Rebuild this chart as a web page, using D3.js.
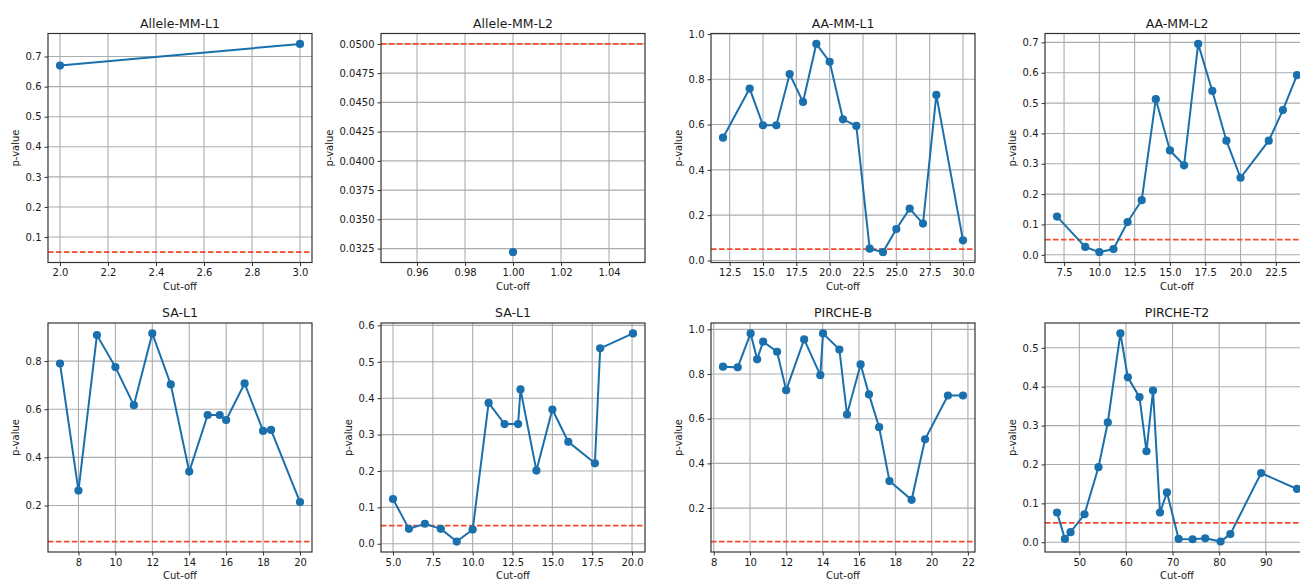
<!DOCTYPE html>
<html>
<head>
<meta charset="utf-8">
<script src="https://cdn.jsdelivr.net/npm/d3@7"></script>
<style>
  body { margin: 0; background: #fff; }
  svg text { font-family: "DejaVu Sans", sans-serif; fill: #1a1a1a; }
</style>
</head>
<body>
<div id="chart"></div>
<script>
// ---- data ----
const threshold = 0.05;

const alleleL1X = [2, 3];
const alleleL1Y = [0.67, 0.742];

const alleleL2X = [1];
const alleleL2Y = [0.0322];

const aaL1X = [12, 14, 15, 16, 17, 18, 19, 20, 21, 22, 23, 24, 25, 26, 27, 28, 30];
const aaL1Y = [0.542, 0.759, 0.597, 0.597, 0.823, 0.70, 0.956, 0.877, 0.623, 0.594, 0.052, 0.037, 0.139, 0.229, 0.163, 0.731, 0.089];

const aaL2X = [7, 9, 10, 11, 12, 13, 14, 15, 16, 17, 18, 19, 20, 22, 23, 24];
const aaL2Y = [0.126, 0.026, 0.009, 0.019, 0.108, 0.180, 0.513, 0.344, 0.295, 0.695, 0.540, 0.376, 0.254, 0.376, 0.477, 0.592];

const saAX = [7, 8, 9, 10, 11, 12, 13, 14, 15, 15.65, 16, 17, 18, 18.43, 20];
const saAY = [0.790, 0.262, 0.908, 0.775, 0.617, 0.915, 0.703, 0.341, 0.576, 0.576, 0.555, 0.707, 0.510, 0.514, 0.214];

const saBX = [5, 6, 7, 8, 9, 10, 11, 12, 12.85, 13, 14, 15, 16, 17.67, 18, 20.06];
const saBY = [0.123, 0.041, 0.055, 0.041, 0.006, 0.039, 0.387, 0.329, 0.329, 0.424, 0.201, 0.369, 0.280, 0.221, 0.537, 0.578];

const pircheBX = [8.51, 9.32, 10.03, 10.39, 10.72, 11.49, 11.99, 12.98, 13.87, 14.02, 14.92, 15.34, 16.09, 16.55, 17.11, 17.68, 18.9, 19.64, 20.9, 21.73];
const pircheBY = [0.833, 0.830, 0.982, 0.866, 0.945, 0.900, 0.728, 0.955, 0.795, 0.982, 0.910, 0.619, 0.843, 0.709, 0.562, 0.321, 0.237, 0.508, 0.704, 0.704];

const pircheT2X = [45.2, 46.9, 48.1, 51.1, 54.1, 56.1, 58.8, 60.4, 62.9, 64.4, 65.8, 67.3, 68.8, 71.3, 74.3, 77.0, 80.3, 82.4, 89.0, 96.7];
const pircheT2Y = [0.0765, 0.0086, 0.026, 0.072, 0.193, 0.308, 0.537, 0.424, 0.373, 0.234, 0.390, 0.0765, 0.128, 0.0086, 0.0077, 0.010, 0.0017, 0.021, 0.178, 0.137];

// tick values per panel
const xTicksList = [
    [2.0, 2.2, 2.4, 2.6, 2.8, 3.0],
    [0.96, 0.98, 1.00, 1.02, 1.04],
    [12.5, 15, 17.5, 20, 22.5, 25, 27.5, 30],
    [7.5, 10, 12.5, 15, 17.5, 20, 22.5],
    [8, 10, 12, 14, 16, 18, 20],
    [5, 7.5, 10, 12.5, 15, 17.5, 20],
    [8, 10, 12, 14, 16, 18, 20, 22],
    [50, 60, 70, 80, 90]
];
const yTicksList = [
    [0.1, 0.2, 0.3, 0.4, 0.5, 0.6, 0.7],
    [0.0325, 0.035, 0.0375, 0.04, 0.0425, 0.045, 0.0475, 0.05],
    [0, 0.2, 0.4, 0.6, 0.8, 1.0],
    [0, 0.1, 0.2, 0.3, 0.4, 0.5, 0.6, 0.7],
    [0.2, 0.4, 0.6, 0.8],
    [0, 0.1, 0.2, 0.3, 0.4, 0.5, 0.6],
    [0.2, 0.4, 0.6, 0.8, 1.0],
    [0, 0.1, 0.2, 0.3, 0.4, 0.5]
];
const titles = ["Allele-MM-L1", "Allele-MM-L2", "AA-MM-L1", "AA-MM-L2", "SA-L1", "SA-L1", "PIRCHE-B", "PIRCHE-T2"];
const xFormats = [".1f", ".2f", ".1f", ".1f", "d", ".1f", "d", "d"];
const yFormats = [".1f", ".4f", ".1f", ".1f", ".1f", ".1f", ".1f", ".1f"];

const panels = [
    { x: alleleL1X, y: alleleL1Y },
    { x: alleleL2X, y: alleleL2Y },
    { x: aaL1X, y: aaL1Y },
    { x: aaL2X, y: aaL2Y },
    { x: saAX, y: saAY },
    { x: saBX, y: saBY },
    { x: pircheBX, y: pircheBY },
    { x: pircheT2X, y: pircheT2Y }
];

// ---- layout ----
const svgWidth = 1300, svgHeight = 581;
const colLeft = [48, 381, 711, 1045];
const rowTop = [33.5, 323];
const pw = 264, ph = 229;
const blue = "#1a70ad";
const red = "#f5492a";

const svg = d3.select("#chart").append("svg")
    .attr("width", svgWidth)
    .attr("height", svgHeight);

// matplotlib-style autoscale: 5% margin, singular values widened
function pad(ext) {
    let [a, b] = ext;
    if (a === b) { a -= Math.abs(a) * 0.05; b += Math.abs(b) * 0.05; }
    const m = (b - a) * 0.05;
    return [a - m, b + m];
}

panels.forEach((p, i) => {
    const g = svg.append("g")
        .attr("transform", `translate(${colLeft[i % 4]},${rowTop[Math.floor(i / 4)]})`);

    const xScale = d3.scaleLinear().domain(pad(d3.extent(p.x))).range([0, pw]);
    const yScale = d3.scaleLinear().domain(pad(d3.extent(p.y.concat([threshold])))).range([ph, 0]);

    // grid
    g.append("g").selectAll("line")
        .data(xTicksList[i])
        .join("line")
        .attr("x1", d => xScale(d)).attr("x2", d => xScale(d))
        .attr("y1", 0).attr("y2", ph)
        .attr("stroke", "#a9adb0").attr("stroke-width", 1.1);
    g.append("g").selectAll("line")
        .data(yTicksList[i])
        .join("line")
        .attr("x1", 0).attr("x2", pw)
        .attr("y1", d => yScale(d)).attr("y2", d => yScale(d))
        .attr("stroke", "#a9adb0").attr("stroke-width", 1.1);

    // axes
    const xAxis = g.append("g")
        .attr("transform", `translate(0,${ph})`)
        .call(d3.axisBottom(xScale).tickValues(xTicksList[i]).tickFormat(d3.format(xFormats[i])).tickSize(3.5).tickPadding(3))
        .style("font-size", "10px");
    const yAxis = g.append("g")
        .call(d3.axisLeft(yScale).tickValues(yTicksList[i]).tickFormat(d3.format(yFormats[i])).tickSize(3.5).tickPadding(3))
        .style("font-size", "10px");
    [xAxis, yAxis].forEach(a => {
        a.select(".domain").remove();
        a.selectAll("line").attr("stroke", "#333");
        a.selectAll("text").attr("fill", "#1a1a1a").style("font-family", "'DejaVu Sans', sans-serif");
    });

    // threshold line
    g.append("line")
        .attr("x1", 0).attr("x2", pw)
        .attr("y1", yScale(threshold)).attr("y2", yScale(threshold))
        .attr("stroke", red).attr("stroke-width", 1.7)
        .attr("stroke-dasharray", "5.5,2.5");

    // series line and markers
    const pts = d3.zip(p.x, p.y);
    g.append("path")
        .datum(pts)
        .attr("fill", "none")
        .attr("stroke", blue)
        .attr("stroke-width", 2)
        .attr("d", d3.line().x(d => xScale(d[0])).y(d => yScale(d[1])));
    g.selectAll("circle")
        .data(pts)
        .join("circle")
        .attr("cx", d => xScale(d[0]))
        .attr("cy", d => yScale(d[1]))
        .attr("r", 4.1)
        .attr("fill", blue);

    // frame
    g.append("rect")
        .attr("width", pw).attr("height", ph)
        .attr("fill", "none").attr("stroke", "#333").attr("stroke-width", 1.2);

    // title and labels
    g.append("text")
        .attr("x", pw / 2).attr("y", -6)
        .attr("text-anchor", "middle")
        .style("font-size", "12.5px")
        .text(titles[i]);

    g.append("text")
        .attr("x", pw / 2).attr("y", ph + 27)
        .attr("text-anchor", "middle")
        .style("font-size", "10px")
        .text("Cut-off");

    let maxW = 0;
    yAxis.selectAll("text").each(function () { maxW = Math.max(maxW, this.getComputedTextLength()); });
    g.append("text")
        .attr("transform", `rotate(-90)`)
        .attr("x", -ph / 2)
        .attr("y", -(maxW + 13))
        .attr("text-anchor", "middle")
        .style("font-size", "10px")
        .text("p-value");
});
</script>
</body>
</html>
